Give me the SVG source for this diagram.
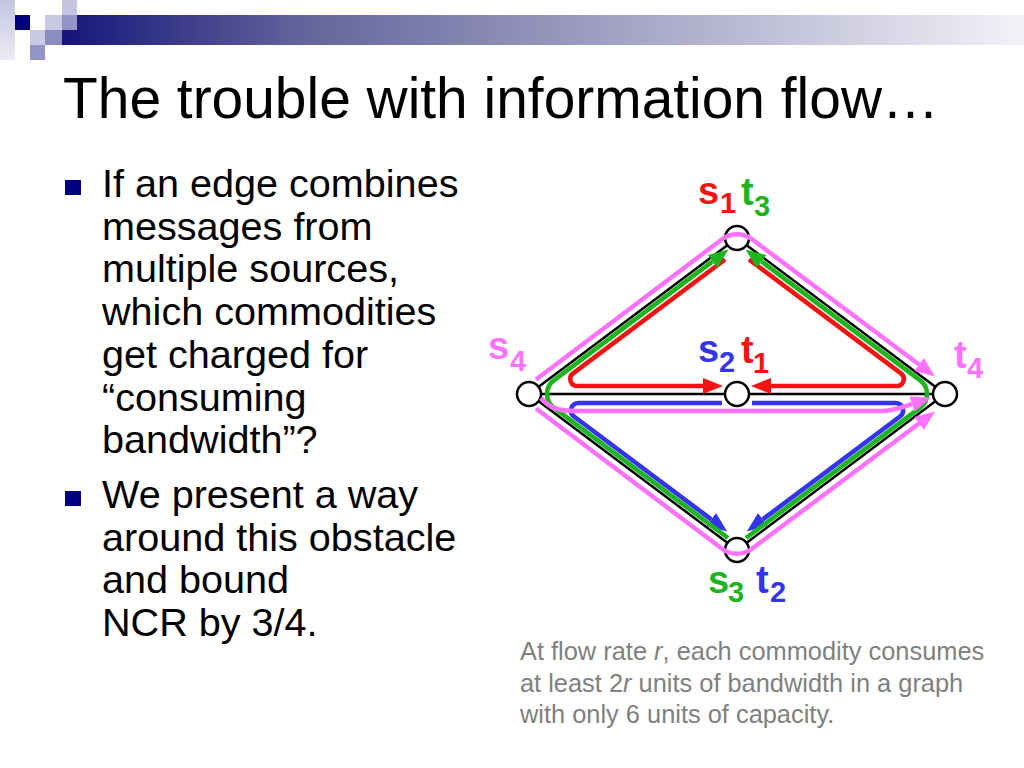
<svg xmlns="http://www.w3.org/2000/svg" width="1024" height="768" viewBox="0 0 1024 768">
<style>
.edge{stroke:#000;stroke-width:2.5;fill:none}
.node{fill:#fff;stroke:#000;stroke-width:2.5}
.flow{fill:none;stroke-width:4.6;stroke-linecap:butt;stroke-linejoin:round}
.red{stroke:#f01414}.green{stroke:#1eb41e}.blue{stroke:#3434ee}.mag{stroke:#ff72ff;stroke-width:4.5}
.lbl{font-family:"Liberation Sans",Arial,sans-serif;font-weight:bold;font-size:38px}
.sub{font-size:29px}
.cr{fill:#f01414}.cg{fill:#1eb41e}.cb{fill:#3434ee}.cm{fill:#ff72ff}
.body{font-family:"Liberation Sans",Arial,sans-serif;font-size:39.6px;fill:#000}
.cap{font-family:"Liberation Sans",Arial,sans-serif;font-size:25.4px;fill:#808080}
.title{font-family:"Liberation Sans",Arial,sans-serif;font-size:56.9px;fill:#000}
</style>
<defs>
<linearGradient id="bar" x1="0" y1="0" x2="1" y2="0">
<stop offset="0" stop-color="#15157a"/>
<stop offset="0.25" stop-color="#64649c"/>
<stop offset="1" stop-color="#f2f2f8"/>
</linearGradient>
<linearGradient id="strip" x1="0" y1="0" x2="0" y2="1">
<stop offset="0" stop-color="#c4c4e0"/>
<stop offset="1" stop-color="#ececf6"/>
</linearGradient>
<marker id="aR" viewBox="0 0 20 16" refX="0" refY="8" markerWidth="20" markerHeight="16" markerUnits="userSpaceOnUse" orient="auto"><path d="M0,0 L20,8 L0,16 z" fill="#f01414"/></marker>
<marker id="aG" viewBox="0 0 20 16" refX="0" refY="8" markerWidth="20" markerHeight="16" markerUnits="userSpaceOnUse" orient="auto"><path d="M0,0 L20,8 L0,16 z" fill="#1eb41e"/></marker>
<marker id="aB" viewBox="0 0 20 16" refX="0" refY="8" markerWidth="20" markerHeight="16" markerUnits="userSpaceOnUse" orient="auto"><path d="M0,0 L20,8 L0,16 z" fill="#3434ee"/></marker>
<marker id="aM" viewBox="0 0 20 16" refX="0" refY="8" markerWidth="20" markerHeight="16" markerUnits="userSpaceOnUse" orient="auto"><path d="M0,0 L20,8 L0,16 z" fill="#ff72ff"/></marker>
</defs>
<rect width="1024" height="768" fill="#fff"/>
<g id="decor">
<rect x="0" y="0" width="15" height="60" fill="url(#strip)"/>
<rect x="62" y="15" width="962" height="30" fill="url(#bar)"/>
<rect x="15" y="15" width="15" height="15" fill="#000080"/>
<rect x="45" y="15" width="17" height="15" fill="#c8c8e2"/>
<rect x="62" y="0" width="15" height="15" fill="#c4c4e0"/>
<rect x="62" y="15" width="15" height="15" fill="#9494c8"/>
<rect x="30" y="30" width="15" height="15" fill="#cacae4"/>
<rect x="45" y="30" width="17" height="15" fill="#8c8cc2"/>
<rect x="30" y="45" width="15" height="15" fill="#9494c8"/>
</g>
<text class="title" x="63" y="118">The trouble with information flow…</text>
<g id="bullets">
<rect x="65" y="180" width="16" height="15" fill="#000080"/>
<rect x="65" y="491" width="16" height="15" fill="#000080"/>
<text class="body" x="102" y="197">If an edge combines</text>
<text class="body" x="102" y="239.5">messages from</text>
<text class="body" x="102" y="282">multiple sources,</text>
<text class="body" x="102" y="325">which commodities</text>
<text class="body" x="102" y="368">get charged for</text>
<text class="body" x="102" y="410.5">“consuming</text>
<text class="body" x="102" y="453">bandwidth”?</text>
<text class="body" x="102" y="508">We present a way</text>
<text class="body" x="102" y="550.5">around this obstacle</text>
<text class="body" x="102" y="593">and bound</text>
<text class="body" x="102" y="636">NCR by 3/4.</text>
</g>
<g id="caption">
<text class="cap" x="520" y="660">At flow rate <tspan font-style="italic">r</tspan>, each commodity consumes</text>
<text class="cap" x="520" y="691.5">at least 2<tspan font-style="italic">r</tspan> units of bandwidth in a graph</text>
<text class="cap" x="520" y="723">with only 6 units of capacity.</text>
</g>
<g id="edges">
<line class="edge" x1="529" y1="394" x2="737" y2="238"/>
<line class="edge" x1="737" y1="238" x2="945" y2="394"/>
<line class="edge" x1="529" y1="394" x2="737" y2="550"/>
<line class="edge" x1="737" y1="550" x2="945" y2="394"/>
<line class="edge" x1="529" y1="394" x2="945" y2="394"/>
</g>
<g id="node-top">
<circle class="node" cx="737" cy="238" r="12"/>
<text class="lbl cr"><tspan x="698" y="204">s</tspan><tspan class="sub" x="720" y="213">1</tspan></text>
<text class="lbl cg"><tspan x="741" y="205">t</tspan><tspan class="sub" x="754" y="216">3</tspan></text>
</g>
<g id="node-left">
<circle class="node" cx="529" cy="394" r="12"/>
<text class="lbl cm"><tspan x="488" y="359">s</tspan><tspan class="sub" x="510" y="371">4</tspan></text>
</g>
<g id="node-mid">
<circle class="node" cx="737" cy="394" r="12"/>
<text class="lbl cb"><tspan x="698" y="362">s</tspan><tspan class="sub" x="719" y="372">2</tspan></text>
<text class="lbl cr"><tspan x="741" y="363">t</tspan><tspan class="sub" x="753" y="373">1</tspan></text>
</g>
<g id="node-right">
<circle class="node" cx="945" cy="394" r="12"/>
<text class="lbl cm"><tspan x="954" y="368">t</tspan><tspan class="sub" x="967" y="378">4</tspan></text>
</g>
<g id="node-bottom">
<circle class="node" cx="737" cy="550" r="12"/>
<text class="lbl cg"><tspan x="708" y="593">s</tspan><tspan class="sub" x="728" y="602">3</tspan></text>
<text class="lbl cb"><tspan x="756" y="593">t</tspan><tspan class="sub" x="770" y="602">2</tspan></text>
</g>
<g id="connectors">
<path class="flow red" d="M725,259.5 L573.1,373.4 A7 7 0 0 0 577.3,386 L703,386" marker-end="url(#aR)"/>
<path class="flow red" d="M749,259.5 L900.9,373.4 A7 7 0 0 1 896.7,386 L771,386" marker-end="url(#aR)"/>
<path class="flow blue" d="M722,403 L578.5,403 A7.5 7.5 0 0 0 574,416.5 L711.2,519.4" marker-end="url(#aB)"/>
<path class="flow blue" d="M752,403 L895.5,403 A7.5 7.5 0 0 1 900,416.5 L762.8,519.4" marker-end="url(#aB)"/>
<path class="flow green" d="M728,538 L553.8,407.6 A17 17 0 0 1 553.8,380.4 L712.5,261.4" marker-end="url(#aG)"/>
<path class="flow green" d="M746,538 L920.2,407.6 A17 17 0 0 0 920.2,380.4 L761.5,261.4" marker-end="url(#aG)"/>
<path class="flow mag" d="M536,379.5 L722,239.25 A25 25 0 0 1 752,239.25 L919,364.5" marker-end="url(#aM)"/>
<path class="flow mag" d="M536,408.5 L722,548.75 A25 25 0 0 0 752,548.75 L919,423.5" marker-end="url(#aM)"/>
<path class="flow mag" d="M541,398 C549,408 558,411 578,411 L880,411 C894,411 903,407 912,404" marker-end="url(#aM)"/>
</g>
</svg>
